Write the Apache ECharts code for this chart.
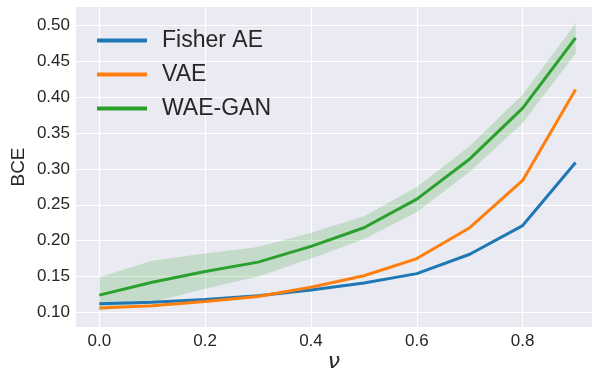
<!DOCTYPE html>
<html><head><meta charset="utf-8">
<script src="https://cdn.jsdelivr.net/npm/echarts@6/dist/echarts.min.js"></script>
<style>html,body{margin:0;padding:0;background:#fff}#c{width:592px;height:368px}</style>
</head><body><div id="c"></div>
<script>
const nu = [0.0, 0.1, 0.2, 0.3, 0.4, 0.5, 0.6, 0.7, 0.8, 0.9];
const fisherAE = [0.112, 0.114, 0.118, 0.123, 0.131, 0.141, 0.154, 0.181, 0.221, 0.309];
const vae = [0.106, 0.109, 0.115, 0.122, 0.135, 0.151, 0.175, 0.218, 0.284, 0.411];
const waeGan = [0.124, 0.142, 0.157, 0.170, 0.192, 0.218, 0.258, 0.314, 0.385, 0.483];
const waeGanLow = [0.102, 0.114, 0.133, 0.150, 0.175, 0.202, 0.240, 0.296, 0.364, 0.461];
const waeGanHigh = [0.149, 0.172, 0.182, 0.191, 0.211, 0.234, 0.275, 0.332, 0.404, 0.503];
const xTicks = [0.0, 0.2, 0.4, 0.6, 0.8];
const yTicks = [0.10, 0.15, 0.20, 0.25, 0.30, 0.35, 0.40, 0.45, 0.50];

const txt = '#262626';
const font = 'Liberation Sans';
const pairs = a => nu.map((x, i) => [x, a[i]]);

const chart = echarts.init(document.getElementById('c'));
chart.setOption({
  animation: false,
  backgroundColor: '#fff',
  textStyle: {fontFamily: font},
  grid: {left: 76, right: 0, top: 7, bottom: 41, show: true, backgroundColor: '#EAEAF2', borderWidth: 0, containLabel: false, outerBoundsMode: 'none'},
  legend: {
    left: 92, top: 24, orient: 'vertical', itemWidth: 50, itemHeight: 4, itemGap: 11,
    icon: 'rect',
    textStyle: {fontSize: 23, color: txt, fontFamily: font, padding: [0, 0, 0, 10]},
    data: ['Fisher AE', 'VAE', 'WAE-GAN']
  },
  xAxis: {
    type: 'value', min: -0.044, max: 0.931,
    name: 'ν', nameLocation: 'middle', nameGap: 24, nameMoveOverlap: false,
    nameTextStyle: {fontSize: 22, color: txt, fontStyle: 'italic', fontFamily: 'DejaVu Sans'},
    axisLine: {show: false}, axisTick: {show: false, customValues: xTicks},
    axisLabel: {customValues: xTicks, fontSize: 17, color: txt, margin: 6, formatter: v => v.toFixed(1)},
    splitLine: {show: true, lineStyle: {color: '#fff', width: 1.2}}
  },
  yAxis: {
    type: 'value', min: 0.0795, max: 0.526,
    name: 'BCE', nameLocation: 'middle', nameGap: 48, nameMoveOverlap: false,
    nameTextStyle: {fontSize: 19, color: txt, fontFamily: font},
    axisLine: {show: false}, axisTick: {show: false, customValues: yTicks},
    axisLabel: {customValues: yTicks, fontSize: 17, color: txt, margin: 6, formatter: v => v.toFixed(2)},
    splitLine: {show: true, lineStyle: {color: '#fff', width: 1.2}}
  },
  series: [
    {
      type: 'custom', name: 'band', silent: true, data: [0], z: 1,
      renderItem: (params, api) => {
        const pts = [];
        for (let i = 0; i < nu.length; i++) pts.push(api.coord([nu[i], waeGanHigh[i]]));
        for (let i = nu.length - 1; i >= 0; i--) pts.push(api.coord([nu[i], waeGanLow[i]]));
        return {type: 'polygon', shape: {points: pts}, style: {fill: 'rgba(44,160,44,0.2)'}};
      }
    },
    {name: 'Fisher AE', type: 'line', data: pairs(fisherAE), symbol: 'none', lineStyle: {width: 3, color: '#1f77b4'}, itemStyle: {color: '#1f77b4'}, z: 3},
    {name: 'VAE', type: 'line', data: pairs(vae), symbol: 'none', lineStyle: {width: 3, color: '#ff7f0e'}, itemStyle: {color: '#ff7f0e'}, z: 4},
    {name: 'WAE-GAN', type: 'line', data: pairs(waeGan), symbol: 'none', lineStyle: {width: 3, color: '#2ca02c'}, itemStyle: {color: '#2ca02c'}, z: 5}
  ]
});
</script></body></html>
